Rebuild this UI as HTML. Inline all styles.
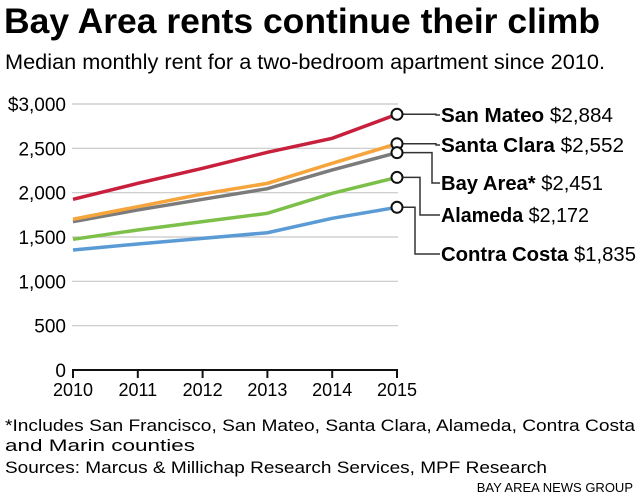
<!DOCTYPE html>
<html><head><meta charset="utf-8"><style>
body{margin:0;background:#fff;width:640px;height:499px;overflow:hidden;font-family:"Liberation Sans",sans-serif;color:#111}
svg text{font-family:"Liberation Sans",sans-serif}
</style></head><body>
<svg width="640" height="499">
<text x="4" y="33" font-size="35" font-weight="bold" textLength="596" lengthAdjust="spacingAndGlyphs">Bay Area rents continue their climb</text>
<text x="5" y="69" font-size="21" textLength="600" lengthAdjust="spacingAndGlyphs">Median monthly rent for a two-bedroom apartment since 2010.</text>
<g id="grid"></g><g id="axes"></g><g id="lines"></g><g id="labels"></g>
<text x="5" y="431" font-size="17" textLength="630" lengthAdjust="spacingAndGlyphs">*Includes San Francisco, San Mateo, Santa Clara, Alameda, Contra Costa</text>
<text x="5" y="451" font-size="17" textLength="190" lengthAdjust="spacingAndGlyphs">and Marin counties</text>
<text x="5" y="473" font-size="17" textLength="542" lengthAdjust="spacingAndGlyphs">Sources: Marcus &amp; Millichap Research Services, MPF Research</text>
<text x="633" y="492" font-size="13" text-anchor="end">BAY AREA NEWS GROUP</text>
</svg>
<script>
const years=[2010,2011,2012,2013,2014,2015];
const yTicks=[0,500,1000,1500,2000,2500,3000];
const yTickLabels=["0","500","1,000","1,500","2,000","2,500","$3,000"];
const names=["San Mateo","Santa Clara","Bay Area*","Alameda","Contra Costa"];
const sanMateo=[1925,2105,2275,2455,2613,2884];
const santaClara=[1700,1842,1985,2105,2331,2552];
const bayArea=[1673,1805,1925,2045,2256,2451];
const alameda=[1474,1579,1673,1767,1993,2172];
const contraCosta=[1353,1421,1485,1548,1711,1835];
const finalLabels=["$2,884","$2,552","$2,451","$2,172","$1,835"];
const series=[sanMateo,santaClara,bayArea,alameda,contraCosta];
const colors=["#c8203c","#f5a53c","#7b7b7b","#7cc04a","#5b9bd5"];
const labelY=[115,145,183,215,254];
const labelW=[172,183,162,148,195];
const elbowX=[436,436,432,420,415];
const ns="http://www.w3.org/2000/svg";
const X=y=>73+(y-2010)*(397-73)/5;
const Y=v=>370-v*266/3000;
function mk(t,a,p){const e=document.createElementNS(ns,t);for(const k in a)e.setAttribute(k,a[k]);document.getElementById(p).appendChild(e);return e;}
yTicks.forEach((t,i)=>{
 if(t>0){const g=mk('line',{x1:72,x2:398,y1:Y(t),y2:Y(t),stroke:'#c8c8c8','stroke-width':1.2},'grid');
 
 }
 const l=mk('text',{x:66,y:Y(t)+7,'font-size':19,'text-anchor':'end'},'axes');l.textContent=yTickLabels[i];
 
 
});
const ax=mk('line',{x1:72,x2:398,y1:370,y2:370,stroke:'#111','stroke-width':2},'axes');


years.forEach(y=>{
 const tk=mk('line',{x1:X(y),x2:X(y),y1:370,y2:378,stroke:'#111','stroke-width':2},'axes');
 
 
 const t=mk('text',{x:X(y),y:396,'font-size':18,'text-anchor':'middle'},'axes');t.textContent=y;
 
 
});
[4,3,2,1,0].forEach(i=>{
 const d=series[i].map((v,j)=>(j?'L':'M')+X(years[j])+','+Y(v)).join('');
 const p=mk('path',{d:d,fill:'none',stroke:colors[i],'stroke-width':3.5},'lines');
 
 
});
series.forEach((s,i)=>{
 const cx=X(2015),cy=Y(s[5]);
 const c=mk('path',{d:`M${cx+6},${cy}H${elbowX[i]}V${labelY[i]}H${440}`,fill:'none',stroke:'#333','stroke-width':1.5},'labels');
 
 
 const ci=mk('circle',{cx:cx,cy:cy,r:5.5,fill:'#fff',stroke:'#111','stroke-width':2},'labels');
 
 
 const t=mk('text',{x:441,y:labelY[i]+7,'font-size':20,textLength:labelW[i],lengthAdjust:'spacingAndGlyphs'},'labels');
 t.innerHTML=`<tspan font-weight="bold">${names[i]}</tspan> ${finalLabels[i]}`;
 
 
});
</script>
</body></html>
